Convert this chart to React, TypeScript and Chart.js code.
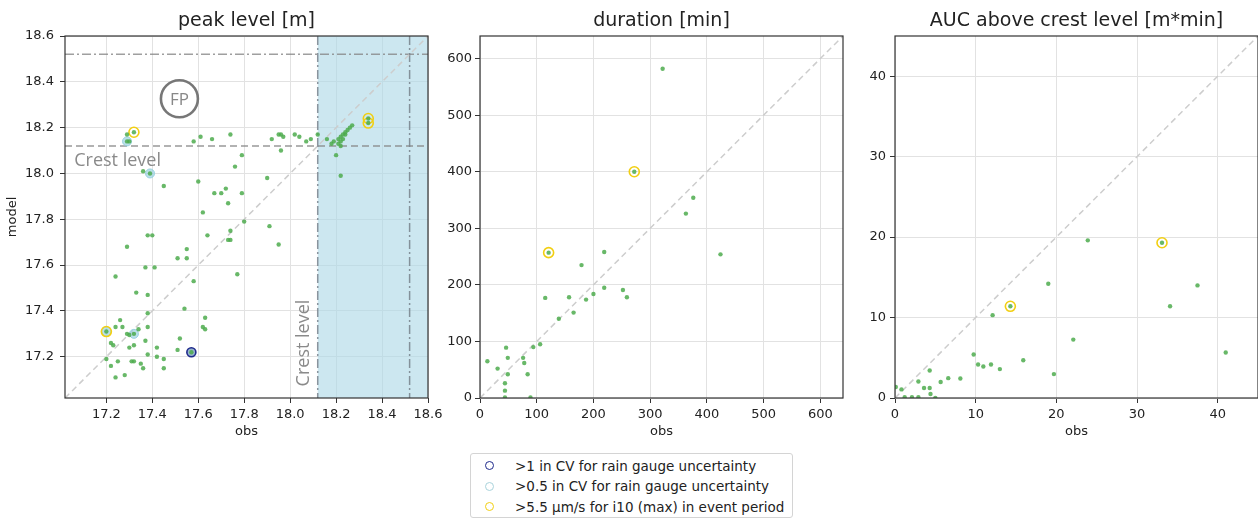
import React, { useEffect, useRef } from "react";
import { Chart, registerables } from "chart.js";
Chart.register(...registerables);

const FONT = "'DejaVu Sans', sans-serif";

// ---------- peak level [m] ----------
const peakObs = [
  17.45, 17.60, 17.67, 17.70, 17.72, 17.79, 17.73, 17.62, 17.80, 17.74, 17.73, 17.74, 17.64, 17.38, 17.40,
  17.91, 17.95, 17.29, 17.55, 17.51, 17.55, 17.37, 17.41, 17.77, 17.24, 17.58, 17.33, 17.38, 17.54, 17.38,
  17.63, 17.26, 17.24, 17.27, 17.38, 17.62, 17.63, 17.34, 17.29, 17.30, 17.20, 17.32, 17.30, 17.32, 17.37,
  17.42, 17.52, 17.51, 17.57, 17.22, 17.23, 17.20, 17.25, 17.22, 17.31, 17.32, 17.35, 17.36, 17.38, 17.42,
  17.45, 17.45, 17.24, 17.28,
  17.29, 17.30, 17.29, 17.32, 17.36, 17.39, 17.58, 17.61, 17.66, 17.74, 17.79, 17.76, 17.90, 17.92, 17.95,
  17.96, 17.97, 18.02, 18.04, 18.07, 18.09, 17.96, 18.12, 18.16, 18.18, 18.19, 18.20, 18.22,
  18.21, 18.21, 18.22, 18.22, 18.23, 18.23, 18.24, 18.24, 18.25, 18.26, 18.27, 18.22, 18.34, 18.34,
];
const peakModel = [
  17.945, 17.965, 17.914, 17.914, 17.934, 17.914, 17.87, 17.83, 17.79, 17.75, 17.71, 17.71, 17.73, 17.73, 17.73,
  17.77, 17.69, 17.68, 17.67, 17.63, 17.63, 17.59, 17.59, 17.56, 17.55, 17.53, 17.48, 17.47, 17.41, 17.39,
  17.37, 17.36, 17.33, 17.33, 17.33, 17.33, 17.32, 17.32, 17.30, 17.295, 17.31, 17.30, 17.24, 17.25, 17.27,
  17.24, 17.28, 17.23, 17.22, 17.26, 17.25, 17.19, 17.18, 17.16, 17.18, 17.18, 17.17, 17.15, 17.21, 17.20,
  17.19, 17.15, 17.11, 17.12,
  18.14, 18.14, 18.17, 18.18, 18.01, 18.00, 18.14, 18.16, 18.15, 18.17, 18.08, 18.03, 17.98, 18.15, 18.17,
  18.17, 18.16, 18.17, 18.16, 18.14, 18.15, 18.10, 18.17, 18.15, 18.13, 18.14, 18.08, 17.99,
  18.13, 18.15, 18.14, 18.16, 18.17, 18.15, 18.18, 18.17, 18.19, 18.20, 18.21, 18.12, 18.24, 18.22,
];
const peakCyanObs = [17.29, 17.39, 17.2, 17.32];
const peakCyanModel = [18.14, 18.0, 17.31, 17.3];
const peakNavyObs = [17.57];
const peakNavyModel = [17.22];
const peakYellowObs = [17.32, 17.2, 18.34, 18.34];
const peakYellowModel = [18.18, 17.31, 18.24, 18.22];
const peakTicks = [17.2, 17.4, 17.6, 17.8, 18.0, 18.2, 18.4, 18.6];
const peakMin = 17.02;
const peakMax = 18.6;
const crestLevel = 18.12;
const upperLevel = 18.52;

// ---------- duration [min] ----------
const durObs = [322, 272, 376, 363, 121, 219, 424, 179, 115, 157, 187, 200, 219, 252, 259, 165, 139, 106, 94, 46, 13, 49, 76, 78, 31, 49, 84, 44, 44, 44, 89];
const durModel = [582, 400, 354, 326, 257, 258, 254, 235, 177, 178, 174, 184, 195, 191, 178, 151, 140, 95, 90, 89, 65, 71, 71, 62, 52, 42, 42, 26, 13, 1, 1];
const durYellowObs = [121, 272];
const durYellowModel = [257, 400];
const durTicks = [0, 100, 200, 300, 400, 500, 600];

// ---------- AUC above crest level [m*min] ----------
const aucObs = [23.9, 33.1, 19.0, 37.5, 14.3, 34.1, 12.1, 22.1, 41.0, 9.75, 15.9, 10.3, 10.95, 11.9, 13.0, 4.3, 19.7, 2.9, 5.66, 6.6, 8.1, 3.6, 4.3, 4.4, 0.8, 0.1, 1.2, 2.1, 2.9, 5.0];
const aucModel = [19.6, 19.3, 14.2, 14.0, 11.4, 11.4, 10.3, 7.26, 5.65, 5.4, 4.7, 4.16, 3.92, 4.16, 3.59, 3.42, 2.97, 2.06, 1.98, 2.47, 2.43, 1.24, 1.24, 0.5, 1.07, 1.36, 0.1, 0.1, 0.1, 0.02];
const aucYellowObs = [14.3, 33.1];
const aucYellowModel = [11.4, 19.3];
const aucTicks = [0, 10, 20, 30, 40];

const legendLabels = [
  ">1 in CV for rain gauge uncertainty",
  ">0.5 in CV for rain gauge uncertainty",
  ">5.5 \u00b5m/s for i10 (max) in event period",
];

const GREEN = "rgba(78,172,78,0.85)";
const YELLOW = "#f2cf12";
const CYAN_FILL = "rgba(150,208,222,0.65)";
const CYAN_EDGE = "rgba(150,208,222,0.95)";
const NAVY = "#1f2a8c";
const LEGEND_COLORS = [NAVY, "#a9d3dc", YELLOW];

function zip(xs: number[], ys: number[]) {
  return xs.map((x, i) => ({ x, y: ys[i] }));
}

const mainDs = (xs: number[], ys: number[]) => ({
  data: zip(xs, ys),
  backgroundColor: GREEN,
  borderWidth: 0,
  pointRadius: 2.2,
  clip: 0,
});
const yellowDs = (xs: number[], ys: number[]) => ({
  data: zip(xs, ys),
  backgroundColor: "rgba(0,0,0,0)",
  borderColor: YELLOW,
  borderWidth: 1.6,
  pointRadius: 5,
  clip: 0,
});
const cyanDs = (xs: number[], ys: number[]) => ({
  data: zip(xs, ys),
  backgroundColor: CYAN_FILL,
  borderColor: CYAN_EDGE,
  borderWidth: 1,
  pointRadius: 4.5,
  clip: 0,
});
const navyDs = (xs: number[], ys: number[]) => ({
  data: zip(xs, ys),
  backgroundColor: "rgba(130,165,195,0.85)",
  borderColor: NAVY,
  borderWidth: 1.6,
  pointRadius: 4.5,
  clip: 0,
});
const diagDs = (lo: number, hi: number) => ({
  type: "line",
  data: [
    { x: lo, y: lo },
    { x: hi, y: hi },
  ],
  borderColor: "#cdcdcd",
  borderDash: [6, 4],
  borderWidth: 1.5,
  pointRadius: 0,
  fill: false,
  clip: 0,
});

const framePlugin = {
  id: "frame",
  afterDraw(chart: any) {
    const { ctx, chartArea: a } = chart;
    ctx.save();
    ctx.strokeStyle = "#333";
    ctx.lineWidth = 1.2;
    ctx.strokeRect(a.left, a.top, a.right - a.left, a.bottom - a.top);
    ctx.restore();
  },
};

const peakDecor = {
  id: "peakDecor",
  beforeDatasetsDraw(chart: any) {
    const { ctx, chartArea: a, scales } = chart;
    const X = (v: number) => scales.x.getPixelForValue(v);
    const Y = (v: number) => scales.y.getPixelForValue(v);
    ctx.save();
    ctx.beginPath();
    ctx.rect(a.left, a.top, a.right - a.left, a.bottom - a.top);
    ctx.clip();
    const xc = X(crestLevel);
    ctx.fillStyle = "rgba(173,216,230,0.62)";
    ctx.fillRect(xc, a.top, a.right - xc, a.bottom - a.top);
    const seg = (x1: number, y1: number, x2: number, y2: number, dash: number[], color: string) => {
      ctx.beginPath();
      ctx.setLineDash(dash);
      ctx.strokeStyle = color;
      ctx.lineWidth = 1.5;
      ctx.moveTo(x1, y1);
      ctx.lineTo(x2, y2);
      ctx.stroke();
    };
    const dashDot = [9, 3, 2, 3];
    seg(a.left, Y(crestLevel), a.right, Y(crestLevel), [7, 4], "rgba(135,135,135,0.85)");
    seg(a.left, Y(upperLevel), a.right, Y(upperLevel), dashDot, "rgba(135,135,135,0.8)");
    seg(xc, a.top, xc, a.bottom, dashDot, "rgba(120,130,140,0.85)");
    seg(X(upperLevel), a.top, X(upperLevel), a.bottom, dashDot, "rgba(120,130,140,0.85)");
    ctx.restore();
  },
  afterDatasetsDraw(chart: any) {
    const { ctx, scales } = chart;
    const X = (v: number) => scales.x.getPixelForValue(v);
    const Y = (v: number) => scales.y.getPixelForValue(v);
    ctx.save();
    ctx.fillStyle = "#8a8a8a";
    ctx.font = "18px 'Open Sans', sans-serif";
    ctx.textBaseline = "middle";
    ctx.textAlign = "left";
    ctx.fillText("Crest level", X(17.06), Y(18.055));
    ctx.save();
    ctx.translate(X(18.058), Y(17.26));
    ctx.rotate(-Math.PI / 2);
    ctx.textAlign = "center";
    ctx.fillText("Crest level", 0, 0);
    ctx.restore();
    // FP marker
    const cx = X(17.518);
    const cy = Y(18.326);
    ctx.beginPath();
    ctx.strokeStyle = "#777";
    ctx.lineWidth = 2.6;
    ctx.arc(cx, cy, 18.5, 0, Math.PI * 2);
    ctx.stroke();
    ctx.fillStyle = "#888";
    ctx.font = "17px 'Open Sans', sans-serif";
    ctx.textAlign = "center";
    ctx.fillText("FP", cx, cy + 1);
    ctx.restore();
  },
};

const CANVAS_H = 445;
const PLOT_BOTTOM = 398;

interface Panel {
  title: string;
  min: number;
  max: number;
  ticks: number[];
  fmt: (v: number) => string;
  datasets: any[];
  yWidth: number;
  padRight: number;
  yTickPad: number;
  yTitle?: string;
  plugins: any[];
}

function buildConfig(p: Panel): any {
  const xAxisH = CANVAS_H - PLOT_BOTTOM;
  const tickFont = { family: FONT, size: 13 };
  const grid = { color: "#e2e2e2", lineWidth: 1, tickColor: "#333", tickLength: 5, drawTicks: true };
  return {
    type: "scatter",
    data: { datasets: [...p.datasets, diagDs(p.min, p.max)] },
    options: {
      responsive: false,
      animation: false,
      events: [],
      layout: { autoPadding: false, padding: { left: 0, right: p.padRight, top: 0, bottom: 0 } },
      plugins: {
        legend: { display: false },
        tooltip: { enabled: false },
        title: {
          display: true,
          fullSize: false,
          text: p.title,
          color: "#222",
          font: { family: FONT, size: 19, weight: "normal" },
          padding: { top: 10, bottom: 3.2 },
        },
      },
      scales: {
        x: {
          type: "linear",
          min: p.min,
          max: p.max,
          afterBuildTicks: (s: any) => {
            s.ticks = p.ticks.map((value) => ({ value }));
          },
          ticks: {
            callback: (v: any) => p.fmt(Number(v)),
            font: tickFont,
            color: "#222",
            padding: 4,
            maxRotation: 0,
            autoSkip: false,
          },
          grid,
          border: { display: false },
          title: {
            display: true,
            text: "obs",
            color: "#222",
            font: { family: FONT, size: 13 },
            padding: { top: 0, bottom: 5.2 },
          },
          afterFit: (s: any) => {
            s.height = xAxisH;
            s.paddingLeft = 0;
            s.paddingRight = 0;
          },
        },
        y: {
          type: "linear",
          min: p.min,
          max: p.max,
          afterBuildTicks: (s: any) => {
            s.ticks = p.ticks.map((value) => ({ value }));
          },
          ticks: {
            callback: (v: any) => p.fmt(Number(v)),
            font: tickFont,
            color: "#222",
            padding: p.yTickPad,
            autoSkip: false,
          },
          grid,
          border: { display: false },
          title: p.yTitle
            ? {
                display: true,
                text: p.yTitle,
                color: "#222",
                font: { family: FONT, size: 13 },
                padding: { top: 5.2, bottom: 0 },
              }
            : { display: false },
          afterFit: (s: any) => {
            s.width = p.yWidth;
            s.paddingTop = 0;
            s.paddingBottom = 0;
          },
        },
      },
    },
    plugins: [...p.plugins, framePlugin],
  };
}

const panels: { left: number; width: number; panel: Panel }[] = [
  {
    left: 0,
    width: 452,
    panel: {
      title: "peak level [m]",
      min: peakMin,
      max: peakMax,
      ticks: peakTicks,
      fmt: (v) => v.toFixed(1),
      datasets: [
        mainDs(peakObs, peakModel),
        yellowDs(peakYellowObs, peakYellowModel),
        navyDs(peakNavyObs, peakNavyModel),
        cyanDs(peakCyanObs, peakCyanModel),
      ],
      yWidth: 65,
      padRight: 452 - 428,
      yTickPad: 6,
      yTitle: "model",
      plugins: [peakDecor],
    },
  },
  {
    left: 440,
    width: 410,
    panel: {
      title: "duration [min]",
      min: 0,
      max: 640,
      ticks: durTicks,
      fmt: (v) => String(v),
      datasets: [mainDs(durObs, durModel), yellowDs(durYellowObs, durYellowModel)],
      yWidth: 40,
      padRight: 410 - (843 - 440),
      yTickPad: 3,
      plugins: [],
    },
  },
  {
    left: 850,
    width: 420,
    panel: {
      title: "AUC above crest level [m*min]",
      min: 0,
      max: 45,
      ticks: aucTicks,
      fmt: (v) => String(v),
      datasets: [mainDs(aucObs, aucModel), yellowDs(aucYellowObs, aucYellowModel)],
      yWidth: 45,
      padRight: 420 - (1258 - 850),
      yTickPad: 4,
      plugins: [],
    },
  },
];

function ChartCanvas({ left, width, panel }: { left: number; width: number; panel: Panel }) {
  const ref = useRef<HTMLCanvasElement>(null);
  useEffect(() => {
    const chart = new Chart(ref.current as HTMLCanvasElement, buildConfig(panel));
    return () => chart.destroy();
  }, []);
  return (
    <canvas
      ref={ref}
      width={width}
      height={CANVAS_H}
      style={{ position: "absolute", left, top: 0, width, height: CANVAS_H }}
    />
  );
}

function Legend() {
  const rowCenters = [11.5, 32, 52.5];
  return (
    <div
      style={{
        position: "absolute",
        left: 470,
        top: 453,
        width: 323,
        height: 65,
        boxSizing: "border-box",
        border: "1px solid #d4d4d4",
        borderRadius: 3,
        fontFamily: FONT,
        fontSize: 13.5,
        color: "#222",
        background: "#fff",
      }}
    >
      {legendLabels.map((label, i) => (
        <React.Fragment key={label}>
          <div
            style={{
              position: "absolute",
              left: 14,
              top: rowCenters[i] - 4.5,
              width: 9,
              height: 9,
              boxSizing: "border-box",
              border: `1.6px solid ${LEGEND_COLORS[i]}`,
              borderRadius: "50%",
            }}
          />
          <div
            style={{
              position: "absolute",
              left: 44,
              top: rowCenters[i] - 8,
              height: 16,
              lineHeight: "16px",
              whiteSpace: "nowrap",
            }}
          >
            {label}
          </div>
        </React.Fragment>
      ))}
    </div>
  );
}

export default function App() {
  return (
    <div style={{ position: "absolute", left: 0, top: 0, width: 1258, height: 519, background: "#fff", overflow: "hidden" }}>
      {panels.map((p, i) => (
        <ChartCanvas key={i} left={p.left} width={p.width} panel={p.panel} />
      ))}
      <Legend />
    </div>
  );
}
